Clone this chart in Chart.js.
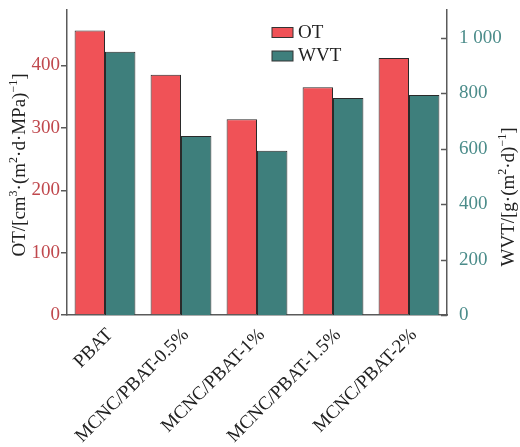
<!DOCTYPE html>
<html>
<head>
<meta charset="utf-8">
<script src="https://cdn.jsdelivr.net/npm/chart.js@4/dist/chart.umd.min.js"></script>
<style>
  html, body { margin: 0; padding: 0; background: #fff; }
  #wrap { width: 520px; height: 447px; position: relative; }
</style>
</head>
<body>
<div id="wrap"><canvas id="c" width="520" height="447"></canvas></div>
<script>
// Sample names along the x axis
const categories = ['PBAT', 'MCNC/PBAT-0.5%', 'MCNC/PBAT-1%', 'MCNC/PBAT-1.5%', 'MCNC/PBAT-2%'];
// Oxygen transmission, cm³·(m²·d·MPa)⁻¹
const otValues = [456, 385, 314, 365, 412];
// Water vapour transmission, g·(m²·d)⁻¹
const wvtValues = [949, 646, 592, 783, 793];
// Axis ranges
const otAxis = { min: 0, max: 489, step: 100 };
const wvtAxis = { min: 0, max: 1100, step: 200 };

const SERIF = '"Liberation Serif", "Times New Roman", serif';
const OT_COLOR = '#f05257';
const WVT_COLOR = '#3e7f7c';
const AXIS_COLOR = '#5a5a5a';
const OT_TICK_COLOR = '#c0484d';
const WVT_TICK_COLOR = '#4b8c8a';

// Draws text runs with optional superscripts, rotated to read bottom-to-top
function drawRichVertical(ctx, runs, cx, cy, size, color) {
  ctx.save();
  ctx.translate(cx, cy);
  ctx.rotate(-Math.PI / 2);
  ctx.fillStyle = color;
  ctx.textBaseline = 'middle';
  ctx.textAlign = 'left';
  const supSize = Math.round(size * 0.62);
  let total = 0;
  runs.forEach(r => {
    ctx.font = (r.sup ? supSize : size) + 'px ' + SERIF;
    r.w = ctx.measureText(r.t).width;
    total += r.w;
  });
  let x = -total / 2;
  runs.forEach(r => {
    ctx.font = (r.sup ? supSize : size) + 'px ' + SERIF;
    ctx.fillText(r.t, x, r.sup ? -size * 0.32 : 0);
    x += r.w;
  });
  ctx.restore();
}

const decorations = {
  id: 'decorations',
  afterDraw(chart) {
    const ctx = chart.ctx;
    const y1 = chart.scales.y1;
    const area = chart.chartArea;
    // inward tick marks on the right axis
    ctx.save();
    ctx.strokeStyle = AXIS_COLOR;
    ctx.lineWidth = 1.5;
    y1.ticks.forEach(t => {
      const py = Math.round(y1.getPixelForValue(t.value)) + 0.5;
      ctx.beginPath();
      ctx.moveTo(area.right - 6, py);
      ctx.lineTo(area.right, py);
      ctx.stroke();
    });
    ctx.restore();

    // axis titles
    drawRichVertical(ctx, [
      { t: 'OT/[cm' }, { t: '3', sup: true }, { t: '·(m' }, { t: '2', sup: true },
      { t: '·d·MPa)' }, { t: '−1', sup: true }, { t: ']' }
    ], 20, 165, 19, '#222');
    drawRichVertical(ctx, [
      { t: 'WVT/[g·(m' }, { t: '2', sup: true }, { t: '·d)' }, { t: '−1', sup: true }, { t: ']' }
    ], 509, 197, 19, '#222');

    // legend
    ctx.save();
    ctx.font = '19px ' + SERIF;
    ctx.textBaseline = 'middle';
    chart.data.datasets.forEach((ds, i) => {
      const top = 27.5 + i * 23.5;
      ctx.fillStyle = ds.backgroundColor;
      ctx.fillRect(272, top, 21, 10);
      ctx.strokeStyle = '#333';
      ctx.lineWidth = 1;
      ctx.strokeRect(272, top, 21, 10);
      ctx.fillStyle = '#222';
      ctx.fillText(ds.label, 298, top + 5.5);
    });
    ctx.restore();
  }
};

// Fixed scale sizes so the plot area lands where intended
function fixVertical(width) {
  return s => { s.width = width; s.paddingTop = 0; s.paddingBottom = 0; };
}

new Chart(document.getElementById('c'), {
  type: 'bar',
  data: {
    labels: categories,
    datasets: [
      { label: 'OT', data: otValues, yAxisID: 'y', backgroundColor: OT_COLOR,
        borderColor: '#2a2a2a', borderWidth: 1 },
      { label: 'WVT', data: wvtValues, yAxisID: 'y1', backgroundColor: WVT_COLOR,
        borderColor: '#2a2a2a', borderWidth: 1 }
    ]
  },
  options: {
    responsive: false,
    animation: false,
    devicePixelRatio: 1,
    layout: { padding: { top: 10, left: 0, right: 0, bottom: 0 } },
    datasets: { bar: { categoryPercentage: 0.8, barPercentage: 1 } },
    plugins: { legend: { display: false }, tooltip: { enabled: false } },
    scales: {
      x: {
        grid: { display: false },
        border: { display: true, color: AXIS_COLOR, width: 1.5 },
        ticks: {
          minRotation: 45, maxRotation: 45, padding: 1, labelOffset: 5,
          color: '#222', font: { family: SERIF, size: 19 }
        },
        afterFit(s) { s.height = 132; s.paddingLeft = 0; s.paddingRight = 0; }
      },
      y: {
        position: 'left',
        min: otAxis.min, max: otAxis.max,
        grid: { drawOnChartArea: false, drawTicks: true, tickLength: 6, color: AXIS_COLOR, lineWidth: 1.5 },
        border: { display: true, color: AXIS_COLOR, width: 1.5 },
        ticks: {
          stepSize: otAxis.step, includeBounds: false, padding: 1,
          color: OT_TICK_COLOR, font: { family: SERIF, size: 19 }
        },
        afterFit: fixVertical(67)
      },
      y1: {
        position: 'right',
        min: wvtAxis.min, max: wvtAxis.max,
        grid: { display: false },
        border: { display: true, color: AXIS_COLOR, width: 1.5 },
        ticks: {
          stepSize: wvtAxis.step, includeBounds: false, padding: 4,
          color: WVT_TICK_COLOR, font: { family: SERIF, size: 19 },
          callback: v => String(v).replace(/\B(?=(\d{3})+(?!\d))/g, ' ')
        },
        afterFit: fixVertical(73)
      }
    }
  },
  plugins: [decorations]
});
</script>
</body>
</html>
